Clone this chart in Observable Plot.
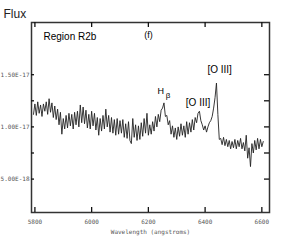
<!DOCTYPE html>
<html><head><meta charset="utf-8">
<script src="https://cdn.jsdelivr.net/npm/d3@7"></script>
<script src="https://cdn.jsdelivr.net/npm/@observablehq/plot@0.6"></script>
<style>body{margin:0;background:#fff}</style>
</head><body><div id="chart"></div>
<script>
const wavelengths = [
5795,5800,5805,5810,5815,5820,5825,5830,5835,5840,5845,5850,5855,5860,5865,5870,5875,5880,5885,5890,
5895,5900,5905,5910,5915,5920,5925,5930,5935,5940,5945,5950,5955,5960,5965,5970,5975,5980,5985,5990,
5995,6000,6005,6010,6015,6020,6025,6030,6035,6040,6045,6050,6055,6060,6065,6070,6075,6080,6085,6090,
6095,6100,6105,6110,6115,6120,6125,6130,6135,6140,6145,6150,6155,6160,6165,6170,6175,6180,6185,6190,
6195,6200,6205,6210,6215,6220,6225,6230,6235,6240,6245,6250,6255,6260,6265,6270,6275,6280,6285,6290,
6295,6300,6305,6310,6315,6320,6325,6330,6335,6340,6345,6350,6355,6360,6365,6370,6375,6380,6385,6390,
6395,6400,6405,6410,6415,6420,6425,6430,6435,6440,6445,6450,6455,6460,6465,6470,6475,6480,6485,6490,
6495,6500,6505,6510,6515,6520,6525,6530,6535,6540,6545,6550,6555,6560,6565,6570,6575,6580,6585,6590,
6595,6600,6605];
// flux in units of 1e-17
const fluxValues = [
1.12,1.22,1.11,1.24,1.13,1.21,1.10,1.22,1.15,1.24,1.12,1.27,1.14,1.23,1.09,1.20,1.07,1.17,1.02,1.14,
0.93,1.08,0.98,1.11,0.99,1.13,1.01,1.12,0.98,1.14,1.02,1.15,1.00,1.21,1.04,1.19,1.03,1.16,0.99,1.12,
0.98,1.15,1.01,1.13,0.97,1.09,0.92,1.08,0.96,1.11,0.98,1.17,1.00,1.11,0.95,1.09,0.94,1.07,0.92,1.08,
0.93,1.06,0.94,1.07,0.90,1.03,0.89,1.05,0.87,0.84,1.08,0.90,1.02,0.87,1.01,0.88,1.04,0.91,1.08,0.94,
1.13,0.92,1.02,0.93,1.05,0.96,1.10,1.00,1.12,1.05,1.16,1.18,1.23,1.10,1.11,1.02,1.06,0.93,1.01,0.90,
0.99,0.88,1.00,0.91,1.03,0.92,1.01,0.90,1.05,0.93,1.04,0.95,1.07,0.97,1.09,1.04,1.13,1.15,1.06,1.02,
0.97,1.01,0.95,1.00,1.04,1.06,1.10,1.18,1.28,1.42,1.12,0.88,0.89,0.83,0.90,0.82,0.88,0.81,0.87,0.79,
0.86,0.80,0.88,0.79,0.87,0.81,0.89,0.79,0.85,0.77,0.92,0.70,0.80,0.62,0.84,0.75,0.87,0.78,0.89,0.79,
0.88,0.81,0.86];
const fluxUnit = 1e-17;
const xTicks = [5800, 6000, 6200, 6400, 6600];
const yTicksLabeled = [5e-18, 1e-17, 1.5e-17];
const yTicksAll = [5e-18, 7.5e-18, 1e-17, 1.25e-17, 1.5e-17];

const spectrum = wavelengths.map((w, i) => ({w, f: fluxValues[i] * fluxUnit}));
const mono = "DejaVu Sans Mono, monospace";
const sans = "Liberation Sans, Arial, sans-serif";
const fmt = v => v.toExponential(2).toUpperCase();
const W = 304, H = 248, mL = 31, mR = 35, mT = 22, mB = 36;
const pw = W - mL - mR, ph = H - mT - mB;

const chart = Plot.plot({
  width: W, height: H,
  marginLeft: mL, marginRight: mR, marginTop: mT, marginBottom: mB,
  x: {domain: [5788, 6627]},
  y: {domain: [0.18e-17, 2.0e-17]},
  style: {background: "#fff"},
  marks: [
    Plot.line(spectrum, {x: "w", y: "f", stroke: "#222", strokeWidth: 0.9}),
    Plot.frame({stroke: "#333", strokeWidth: 1.5}),
    Plot.tickY(yTicksAll, {y: d => d, insetRight: pw - 3, stroke: "#111", strokeWidth: 1.3}),
    Plot.tickY(yTicksAll, {y: d => d, insetLeft: pw - 5, stroke: "#111", strokeWidth: 1.3}),
    Plot.tickX(xTicks, {x: d => d, insetTop: ph - 5, stroke: "#111", strokeWidth: 1.3}),
    Plot.tickX(xTicks, {x: d => d, insetBottom: ph - 5, stroke: "#111", strokeWidth: 1.3}),
    Plot.axisY({ticks: yTicksLabeled, tickSize: 0, tickPadding: 2, tickFormat: fmt, fontSize: 6, fontFamily: mono, fill: "#555", label: null}),
    Plot.axisX({ticks: xTicks, tickSize: 0, tickPadding: 7, tickFormat: d => String(d), fontSize: 6, fontFamily: mono, fill: "#555", label: null}),
    Plot.text(["Wavelength (angstroms)"], {frameAnchor: "bottom", dy: 21, lineAnchor: "bottom", fontSize: 6, fontFamily: mono, fill: "#555"}),
    Plot.text(["Flux"], {frameAnchor: "top-left", dx: -28, dy: -5, textAnchor: "start", lineAnchor: "bottom", fontSize: 12, fontFamily: sans, fill: "#222"}),
    Plot.text(["Region R2b"], {frameAnchor: "top-left", dx: 12, dy: 17, textAnchor: "start", lineAnchor: "bottom", fontSize: 10, fontFamily: sans, fill: "#000"}),
    Plot.text(["(f)"], {frameAnchor: "top-left", dx: 117, dy: 15, textAnchor: "middle", lineAnchor: "bottom", fontSize: 9, fontFamily: sans, fill: "#000"}),
    Plot.text(["H"], {x: 6232, y: 1.312e-17, textAnchor: "start", lineAnchor: "bottom", fontSize: 9, fontFamily: sans, fill: "#000"}),
    Plot.text(["β"], {x: 6261, y: 1.274e-17, textAnchor: "start", lineAnchor: "bottom", fontSize: 8, fontFamily: sans, fill: "#000"}),
    Plot.text(["[O III]"], {x: 6332, y: 1.2e-17, textAnchor: "start", lineAnchor: "bottom", fontSize: 10, fontFamily: sans, fill: "#000"}),
    Plot.text(["[O III]"], {x: 6408, y: 1.52e-17, textAnchor: "start", lineAnchor: "bottom", fontSize: 10, fontFamily: sans, fill: "#000"})
  ]
});
document.getElementById("chart").appendChild(chart);
</script>
</body></html>
